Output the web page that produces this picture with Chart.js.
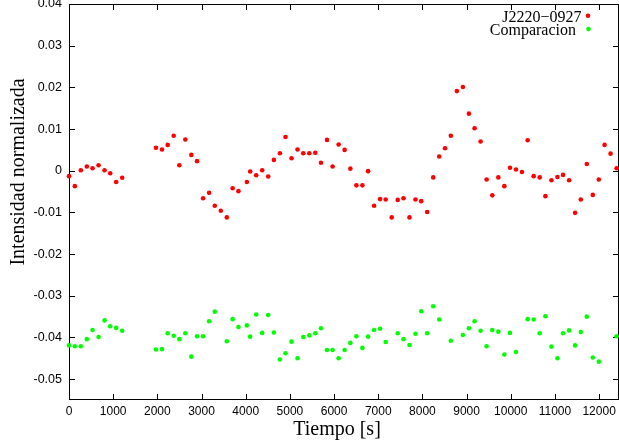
<!DOCTYPE html>
<html>
<head>
<meta charset="utf-8">
<script src="https://cdn.jsdelivr.net/npm/chart.js@4"></script>
<style>
  body { margin: 0; background: #fff; }
  canvas { display: block; }
</style>
</head>
<body>
<canvas id="chart" width="619" height="446"></canvas>
<script>
// Tiempo [s] de cada medida
const tiempo = [0, 132, 268, 404, 533, 669, 805, 932, 1068, 1204,
  1969, 2105, 2234, 2370, 2497, 2633, 2769, 2898, 3035, 3171,
  3300, 3436, 3572, 3704, 3835, 4026, 4101, 4237, 4373, 4509,
  4638, 4774, 4901, 5037, 5173, 5303, 5439, 5575, 5704, 5840,
  5967, 6103, 6239, 6369, 6505, 6641, 6770, 6906, 7042, 7169,
  7305, 7441, 7571, 7707, 7843, 7972, 8108, 8244, 8380, 8512,
  8643, 8780, 8916, 9052, 9181, 9317, 9453, 9582, 9718, 9854,
  9982, 10118, 10254, 10383, 10519, 10655, 10784, 10920, 11056, 11183,
  11320, 11456, 11585, 11721, 11857, 11993, 12123, 12259, 12395];

// J2220-0927
const j2220 = [-0.0013, -0.0037, 0.0001, 0.0010, 0.0006, 0.0013, 0.0001, -0.0006, -0.0027, -0.0017,
  0.0055, 0.0051, 0.0062, 0.0084, 0.0013, 0.0075, 0.0038, 0.0023, -0.0066, -0.0053,
  -0.0084, -0.0096, -0.0112, -0.0042, -0.0049, -0.0027, -0.0002, -0.0011, 0.0001, -0.0014,
  0.0026, 0.0042, 0.0081, 0.0030, 0.0051, 0.0042, 0.0042, 0.0043, 0.0019, 0.0074,
  0.0010, 0.0063, 0.0050, 0.0005, -0.0035, -0.0035, -0.0001, -0.0084, -0.0068, -0.0069,
  -0.0112, -0.0070, -0.0066, -0.0112, -0.0069, -0.0073, -0.0099, -0.0016, 0.0034, 0.0054,
  0.0084, 0.0191, 0.0201, 0.0137, 0.0102, 0.0070, -0.0021, -0.0059, -0.0016, -0.0037,
  0.0007, 0.0003, -0.0003, 0.0073, -0.0013, -0.0016, -0.0061, -0.0023, -0.0015, -0.0010,
  -0.0023, -0.0101, -0.0069, 0.0016, -0.0058, -0.0021, 0.0062, 0.0041, 0.0006];

// estrella de comparacion (null = sin punto)
const comparacion = [-0.0419, -0.0421, -0.0421, -0.0404, -0.0382, -0.0399, -0.0359, -0.0373, -0.0377, -0.0384,
  -0.0429, -0.0428, -0.0390, -0.0396, -0.0404, -0.0390, -0.0446, -0.0397, -0.0397, -0.0361,
  -0.0338, null, -0.0409, -0.0356, -0.0375, -0.0371, -0.0398, -0.0345, -0.0389, -0.0346,
  -0.0388, -0.0453, -0.0438, -0.0410, -0.0450, -0.0399, -0.0395, -0.0390, -0.0378, -0.0430,
  -0.0430, -0.0450, -0.0430, -0.0413, -0.0397, -0.0425, -0.0398, -0.0382, -0.0379, -0.0411,
  null, -0.0390, -0.0404, -0.0418, -0.0391, -0.0337, -0.0390, -0.0325, -0.0357, null,
  -0.0408, null, -0.0394, -0.0378, -0.0361, -0.0384, -0.0421, -0.0382, -0.0386, -0.0441,
  -0.0389, -0.0435, null, -0.0356, -0.0357, -0.0390, -0.0349, -0.0422, -0.0450, -0.0390,
  -0.0383, -0.0419, -0.0387, -0.0350, -0.0448, -0.0458, null, null, -0.0397];

const xTicks = [0, 1000, 2000, 3000, 4000, 5000, 6000, 7000, 8000, 9000, 10000, 11000, 12000];
const yTicks = [-0.05, -0.04, -0.03, -0.02, -0.01, 0, 0.01, 0.02, 0.03, 0.04];

const toPoints = (ys) => tiempo
  .map((t, i) => ({ x: t, y: ys[i] }))
  .filter(p => p.y !== null);

const noPad = (s) => {
  s.paddingTop = 0; s.paddingBottom = 0;
  s.paddingLeft = 0; s.paddingRight = 0;
};

// gnuplot-like frame: border and inward ticks on all sides (under the points),
// then axis titles and the key on top
const gnuplotFrame = {
  id: "gnuplotFrame",
  beforeDatasetsDraw(chart) {
    const { ctx, chartArea: a, scales } = chart;
    const tl = 6;
    ctx.save();
    ctx.strokeStyle = "#000";
    ctx.lineWidth = 1;
    ctx.strokeRect(a.left + 0.5, a.top + 0.5, a.right - a.left - 1, a.bottom - a.top - 1);
    ctx.beginPath();
    xTicks.forEach(v => {
      const x = Math.round(scales.x.getPixelForValue(v)) + 0.5;
      ctx.moveTo(x, a.bottom); ctx.lineTo(x, a.bottom - tl);
      ctx.moveTo(x, a.top); ctx.lineTo(x, a.top + tl);
    });
    yTicks.forEach(v => {
      const y = Math.round(scales.y.getPixelForValue(v)) + 0.5;
      ctx.moveTo(a.left, y); ctx.lineTo(a.left + tl, y);
      ctx.moveTo(a.right, y); ctx.lineTo(a.right - tl, y);
    });
    ctx.stroke();
    ctx.restore();
  },
  afterDraw(chart) {
    const { ctx } = chart;
    ctx.save();
    ctx.fillStyle = "#000";
    ctx.font = "20px 'Liberation Serif'";
    ctx.textAlign = "center";
    ctx.textBaseline = "alphabetic";
    ctx.fillText("Tiempo [s]", 337, 435);
    ctx.save();
    ctx.translate(24, 172);
    ctx.rotate(-Math.PI / 2);
    ctx.fillText("Intensidad normalizada", 0, 0);
    ctx.restore();

    ctx.font = "16px 'Liberation Serif'";
    ctx.textAlign = "right";
    ctx.fillText("J2220\u22120927", 581.5, 21.5);
    ctx.fillText("Comparacion", 576, 35);
    ctx.fillStyle = "#ff0000";
    ctx.beginPath(); ctx.arc(588, 15.7, 2.3, 0, Math.PI * 2); ctx.fill();
    ctx.fillStyle = "#00ff00";
    ctx.beginPath(); ctx.arc(588.5, 29, 2.3, 0, Math.PI * 2); ctx.fill();
    ctx.restore();
  }
};

new Chart(document.getElementById("chart"), {
  type: "scatter",
  data: {
    datasets: [
      { label: "J2220\u22120927", data: toPoints(j2220), backgroundColor: "#ff0000", clip: false },
      { label: "Comparacion", data: toPoints(comparacion), backgroundColor: "#00ff00", clip: false }
    ]
  },
  options: {
    responsive: false,
    animation: false,
    devicePixelRatio: 1,
    layout: { autoPadding: false, padding: { top: 4, right: 0, left: 0, bottom: 0 } },
    elements: { point: { radius: 2.3, borderWidth: 0, hoverRadius: 2.3 } },
    plugins: { legend: { display: false }, tooltip: { enabled: false } },
    scales: {
      x: {
        type: "linear",
        min: 0,
        max: 12450,
        afterBuildTicks: (s) => { s.ticks = xTicks.map(v => ({ value: v })); },
        afterFit: (s) => { s.height = 46; noPad(s); },
        grid: { display: false, drawTicks: false },
        border: { display: false },
        ticks: {
          padding: 4,
          color: "#000",
          font: { family: "'Liberation Sans'", size: 12 },
          callback: (v) => String(v)
        }
      },
      y: {
        type: "linear",
        min: -0.055,
        max: 0.04,
        afterBuildTicks: (s) => { s.ticks = yTicks.map(v => ({ value: v })); },
        afterFit: (s) => { s.width = 69; noPad(s); },
        grid: { display: false, drawTicks: false },
        border: { display: false },
        ticks: {
          padding: 7,
          color: "#000",
          font: { family: "'Liberation Sans'", size: 12.5 },
          callback: (v) => String(Math.round(v * 100) / 100)
        }
      }
    }
  },
  plugins: [gnuplotFrame]
});
</script>
</body>
</html>
